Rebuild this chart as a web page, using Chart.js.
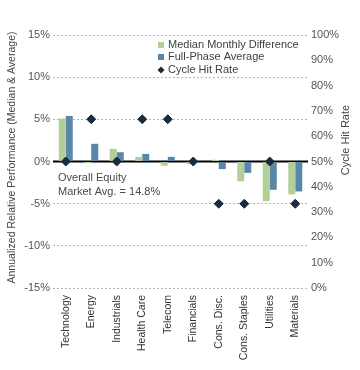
<!DOCTYPE html>
<html>
<head>
<meta charset="utf-8">
<script src="https://cdn.jsdelivr.net/npm/chart.js@4.4.1/dist/chart.umd.min.js"></script>
<style>
    html, body { margin: 0; padding: 0; background: #fff; }
    #wrap { width: 360px; height: 370px; position: relative; }
</style>
</head>
<body>
<div id="wrap"><canvas id="sectorChart" width="360" height="370"></canvas></div>
<script>
// Sector data
const categories = ['Technology', 'Energy', 'Industrials', 'Health Care', 'Telecom',
    'Financials', 'Cons. Disc.', 'Cons. Staples', 'Utilities', 'Materials'];
const medianDiff = [5.1, -0.2, 1.5, 0.55, -0.5, -0.3, 0.2, -2.35, -4.7, -3.9];
const phaseAvg = [5.4, 2.1, 1.1, 0.9, 0.55, 0, -0.9, -1.35, -3.35, -3.55];
const hitRate = [50, 66.7, 50, 66.7, 66.7, 50, 33.3, 33.3, 50, 33.3];
const legendLabels = ['Median Monthly Difference', 'Full-Phase Average', 'Cycle Hit Rate'];

const GREEN = '#b3cf98';
const BLUE = '#5a87a8';
const NAVY = '#1b2b3a';
const FONT = "'Liberation Sans', Arial, sans-serif";

// Extra drawing: zero line, legend, note and axis titles
const extras = {
    id: 'extras',
    beforeDatasetsDraw(chart) {
        const ctx = chart.ctx;
        const area = chart.chartArea;
        const y0 = chart.scales.y.getPixelForValue(0);
        ctx.save();
        ctx.strokeStyle = '#000';
        ctx.lineWidth = 2;
        ctx.beginPath();
        ctx.moveTo(area.left, y0);
        ctx.lineTo(area.right, y0);
        ctx.stroke();
        ctx.restore();
    },
    afterDraw(chart) {
        const ctx = chart.ctx;
        const area = chart.chartArea;
        ctx.save();
        ctx.font = '11px ' + FONT;
        ctx.textBaseline = 'middle';

        // legend
        const lx = 161, ly = [45, 57, 70];
        ctx.fillStyle = GREEN;
        ctx.fillRect(lx - 3, ly[0] - 3, 6, 6);
        ctx.fillStyle = BLUE;
        ctx.fillRect(lx - 3, ly[1] - 3, 6, 6);
        ctx.fillStyle = NAVY;
        ctx.beginPath();
        ctx.moveTo(lx, ly[2] - 3.5);
        ctx.lineTo(lx + 3.5, ly[2]);
        ctx.lineTo(lx, ly[2] + 3.5);
        ctx.lineTo(lx - 3.5, ly[2]);
        ctx.closePath();
        ctx.fill();
        ctx.fillStyle = '#3a3f45';
        legendLabels.forEach((t, i) => ctx.fillText(t, 168, ly[i]));

        // note under the zero line
        ctx.fillStyle = '#4a4a4a';
        ctx.fillText('Overall Equity', 58, 178);
        ctx.fillText('Market Avg. = 14.8%', 58, 192);

        // axis titles
        ctx.font = '10.5px ' + FONT;
        ctx.fillStyle = '#444';
        ctx.textAlign = 'center';
        ctx.translate(12, (area.top + area.bottom) / 2 - 4);
        ctx.rotate(-Math.PI / 2);
        ctx.fillText('Annualized Relative Performance (Median & Average)', 0, 0);
        ctx.restore();

        ctx.save();
        ctx.font = '11px ' + FONT;
        ctx.fillStyle = '#444';
        ctx.textAlign = 'center';
        ctx.textBaseline = 'middle';
        ctx.translate(346, 140);
        ctx.rotate(-Math.PI / 2);
        ctx.fillText('Cycle Hit Rate', 0, 0);
        ctx.restore();
    }
};

const ctx = document.getElementById('sectorChart').getContext('2d');
new Chart(ctx, {
    type: 'bar',
    data: {
        labels: categories,
        datasets: [
            {
                type: 'line',
                label: legendLabels[2],
                data: hitRate,
                yAxisID: 'y2',
                showLine: false,
                pointStyle: 'rectRot',
                pointRadius: 4.5,
                pointBackgroundColor: NAVY,
                pointBorderColor: NAVY,
                order: 0
            },
            {
                label: legendLabels[0],
                data: medianDiff,
                backgroundColor: GREEN,
                yAxisID: 'y',
                categoryPercentage: 0.55,
                barPercentage: 1.0,
                order: 1
            },
            {
                label: legendLabels[1],
                data: phaseAvg,
                backgroundColor: BLUE,
                yAxisID: 'y',
                categoryPercentage: 0.55,
                barPercentage: 1.0,
                order: 2
            }
        ]
    },
    options: {
        responsive: false,
        animation: false,
        layout: { padding: { top: 35, left: 0, right: 0, bottom: 0 } },
        plugins: {
            legend: { display: false },
            tooltip: { enabled: false }
        },
        scales: {
            x: {
                grid: { display: false, drawTicks: false },
                border: { display: false },
                ticks: {
                    minRotation: 90,
                    maxRotation: 90,
                    autoSkip: false,
                    padding: 7,
                    color: '#333',
                    font: { family: FONT, size: 10.5 }
                },
                afterFit: s => { s.height = 82; }
            },
            y: {
                position: 'left',
                min: -15,
                max: 15,
                ticks: {
                    stepSize: 5,
                    padding: 3,
                    color: '#555',
                    font: { family: FONT, size: 11 },
                    callback: v => v + '%'
                },
                grid: {
                    drawTicks: false,
                    color: c => c.tick.value === 0 ? 'rgba(0,0,0,0)' : '#b5b5b5',
                    lineWidth: 1
                },
                border: { display: false, dash: [2, 2] },
                afterFit: s => { s.width = 53; }
            },
            y2: {
                position: 'right',
                min: 0,
                max: 100,
                ticks: {
                    stepSize: 10,
                    padding: 3,
                    color: '#555',
                    font: { family: FONT, size: 11 },
                    callback: v => v + '%'
                },
                grid: { display: false, drawTicks: false },
                border: { display: false },
                afterFit: s => { s.width = 52; }
            }
        }
    },
    plugins: [extras]
});
</script>
</body>
</html>
